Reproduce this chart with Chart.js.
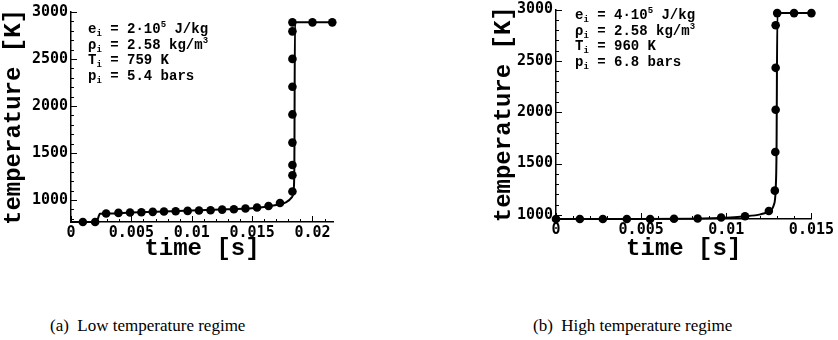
<!DOCTYPE html>
<html>
<head>
<meta charset="utf-8">
<script src="https://cdn.jsdelivr.net/npm/chart.js@4/dist/chart.umd.min.js"></script>
<style>
  body { margin: 0; background: #fff; }
  #page { position: relative; width: 838px; height: 340px; overflow: hidden; }
  canvas { position: absolute; }
  .note {
    position: absolute;
    font: bold 14px "Liberation Mono", monospace;
    line-height: 15.5px;
    color: #000;
    white-space: pre;
  }
  .note sub { font-size: 9px; vertical-align: -3px; line-height: 0; }
  .note sup { font-size: 9px; vertical-align: 6px; line-height: 0; }
  .caption {
    position: absolute;
    font: 17px "Liberation Serif", serif;
    color: #000;
    white-space: nowrap;
  }
</style>
</head>
<body>
<div id="page">
  <canvas id="lowChart" width="345" height="265" style="left:0;top:0"></canvas>
  <canvas id="highChart" width="348" height="266" style="left:490px;top:-1px"></canvas>

  <div class="note" style="left:88px;top:22px">e<sub>i</sub> = 2·10<sup>5</sup> J/kg
ρ<sub>i</sub> = 2.58 kg/m<sup>3</sup>
T<sub>i</sub> = 759 K
p<sub>i</sub> = 5.4 bars</div>

  <div class="note" style="left:575px;top:8px">e<sub>i</sub> = 4·10<sup>5</sup> J/kg
ρ<sub>i</sub> = 2.58 kg/m<sup>3</sup>
T<sub>i</sub> = 960 K
p<sub>i</sub> = 6.8 bars</div>

  <div class="caption" style="left:50px;top:316px">(a)&nbsp; Low temperature regime</div>
  <div class="caption" style="left:533px;top:316px">(b)&nbsp; High temperature regime</div>
</div>

<script>
// ----------------------------
// Daten: (a) niedrige Temperatur
// ----------------------------
const lowPointTime = [0.00098, 0.0020, 0.00291, 0.00393, 0.00489, 0.00583, 0.00677, 0.0077,
  0.00867, 0.00966, 0.0106, 0.01156, 0.01252, 0.01349, 0.01445, 0.01541, 0.01636, 0.01731,
  0.01834, 0.01834, 0.01834, 0.01834, 0.01834, 0.01834, 0.01834, 0.01834, 0.01834, 0.0200, 0.02164];
const lowPointTemp = [765, 765, 856, 862, 866, 869, 873, 876,
  880, 883, 887, 890, 897, 901, 908, 919, 936, 968,
  1089, 1263, 1372, 1610, 1910, 2204, 2501, 2794, 2890, 2890, 2890];

const lowLineTime = [0, 0.0021, 0.0024, 0.003, 0.005, 0.01, 0.013, 0.015, 0.016, 0.017,
  0.0178, 0.0183, 0.01845, 0.0185, 0.01855, 0.0217];
const lowLineTemp = [765, 765, 852, 856, 866, 887, 901, 912, 925, 945,
  975, 1030, 1120, 1400, 2890, 2890];

const lowXTicks = [0, 0.005, 0.01, 0.015, 0.02];
const lowYTicks = [1000, 1500, 2000, 2500, 3000];

// ----------------------------
// Daten: (b) hohe Temperatur
// ----------------------------
const highPointTime = [0, 0.0014, 0.00275, 0.00416, 0.00553, 0.00693, 0.00832, 0.0097, 0.0111,
  0.0125, 0.01285, 0.01288, 0.0129, 0.0129, 0.0129, 0.01299, 0.01398, 0.015];
const highPointTemp = [960, 960, 960, 960, 960, 962, 965, 974, 987,
  1038, 1236, 1612, 2024, 2432, 2847, 2965, 2965, 2965];

const highLineTime = [0, 0.004, 0.008, 0.010, 0.011, 0.012, 0.0125, 0.0128, 0.0129, 0.01295, 0.0130, 0.015];
const highLineTemp = [960, 960, 963, 972, 985, 1005, 1035, 1100, 1250, 1600, 2965, 2965];

const highXTicks = [0, 0.005, 0.01, 0.015];
const highYTicks = [1000, 1500, 2000, 2500, 3000];

// ----------------------------
// Ticks nach innen (Tecplot-Stil)
// ----------------------------
const innerTicks = {
  id: 'innerTicks',
  afterDraw(chart, args, opts) {
    const { ctx, chartArea: a, scales: { x, y } } = chart;
    ctx.save();
    ctx.strokeStyle = '#000';
    ctx.lineWidth = 1;
    ctx.beginPath();
    for (let i = 0; i * opts.xMinor <= x.max + 1e-12; i++) {
      const v = i * opts.xMinor;
      const px = Math.round(x.getPixelForValue(v)) + 0.5;
      const len = (i % opts.xEvery === 0) ? 6 : 3;
      ctx.moveTo(px, a.bottom);
      ctx.lineTo(px, a.bottom - len);
    }
    for (let i = Math.ceil(y.min / opts.yMinor); i * opts.yMinor <= y.max + 1e-9; i++) {
      const v = i * opts.yMinor;
      const py = Math.round(y.getPixelForValue(v)) + 0.5;
      const len = (i % opts.yEvery === 0) ? 6 : 3;
      ctx.moveTo(a.left, py);
      ctx.lineTo(a.left + len, py);
    }
    ctx.stroke();
    ctx.restore();
  }
};

Chart.defaults.color = '#000';
Chart.defaults.font.family = '"DejaVu Sans Mono", monospace';

function makeChart(id, cfg) {
  const pts = cfg.pointTime.map((t, i) => ({ x: t, y: cfg.pointTemp[i] }));
  const line = cfg.lineTime.map((t, i) => ({ x: t, y: cfg.lineTemp[i] }));
  const tickFont = { family: '"DejaVu Sans Mono", monospace', size: 15, weight: 'bold', lineHeight: 1 };
  const titleFont = { family: '"Liberation Mono", monospace', size: 24, weight: 'bold' };

  return new Chart(document.getElementById(id), {
    type: 'scatter',
    data: {
      datasets: [
        {
          data: line,
          showLine: true,
          borderColor: '#000',
          borderWidth: 2,
          pointRadius: 0,
          cubicInterpolationMode: 'monotone',
          clip: false,
          order: 2
        },
        {
          data: pts,
          showLine: false,
          pointRadius: 4.3,
          pointBackgroundColor: '#000',
          pointBorderWidth: 0,
          clip: false,
          order: 1
        }
      ]
    },
    options: {
      responsive: false,
      animation: false,
      devicePixelRatio: 1,
      layout: { padding: cfg.padding },
      plugins: {
        legend: { display: false },
        tooltip: { enabled: false },
        innerTicks: { xMinor: 0.001, xEvery: 5, yMinor: 100, yEvery: 5 }
      },
      scales: {
        x: {
          type: 'linear',
          min: 0,
          max: cfg.xMax,
          afterBuildTicks: s => { s.ticks = cfg.xTicks.map(v => ({ value: v })); },
          afterFit: s => { s.height = cfg.xHeight; },
          grid: { display: false, drawTicks: false },
          border: { display: true, color: '#000', width: 1.5 },
          ticks: { padding: 4, font: tickFont, maxRotation: 0, autoSkip: false, callback: v => String(v) },
          title: { display: true, text: 'time [s]', font: titleFont, padding: { top: 0, bottom: 2 } }
        },
        y: {
          type: 'linear',
          min: cfg.yMin,
          max: 3000,
          afterBuildTicks: s => { s.ticks = cfg.yTicks.map(v => ({ value: v })); },
          afterFit: s => { s.width = cfg.yWidth; },
          grid: { display: false, drawTicks: false },
          border: { display: true, color: '#000', width: 1.5 },
          ticks: { padding: 3, font: tickFont, autoSkip: false, callback: v => String(v) },
          title: { display: true, text: 'temperature [K]', font: titleFont, padding: { top: 0, bottom: 0 } }
        }
      }
    },
    plugins: [innerTicks]
  });
}

// ----------------------------
// Initialisierung
// ----------------------------
makeChart('lowChart', {
  pointTime: lowPointTime, pointTemp: lowPointTemp,
  lineTime: lowLineTime, lineTemp: lowLineTemp,
  xTicks: lowXTicks, yTicks: lowYTicks,
  xMax: 0.0217, yMin: 765,
  yWidth: 71, xHeight: 43,
  padding: { top: 12, right: 12, left: 0, bottom: 0 }
});

makeChart('highChart', {
  pointTime: highPointTime, pointTemp: highPointTemp,
  lineTime: highLineTime, lineTemp: highLineTemp,
  xTicks: highXTicks, yTicks: highYTicks,
  xMax: 0.015, yMin: 960,
  yWidth: 66, xHeight: 46,
  padding: { top: 8, right: 26, left: 0, bottom: 0 }
});
</script>
</body>
</html>
